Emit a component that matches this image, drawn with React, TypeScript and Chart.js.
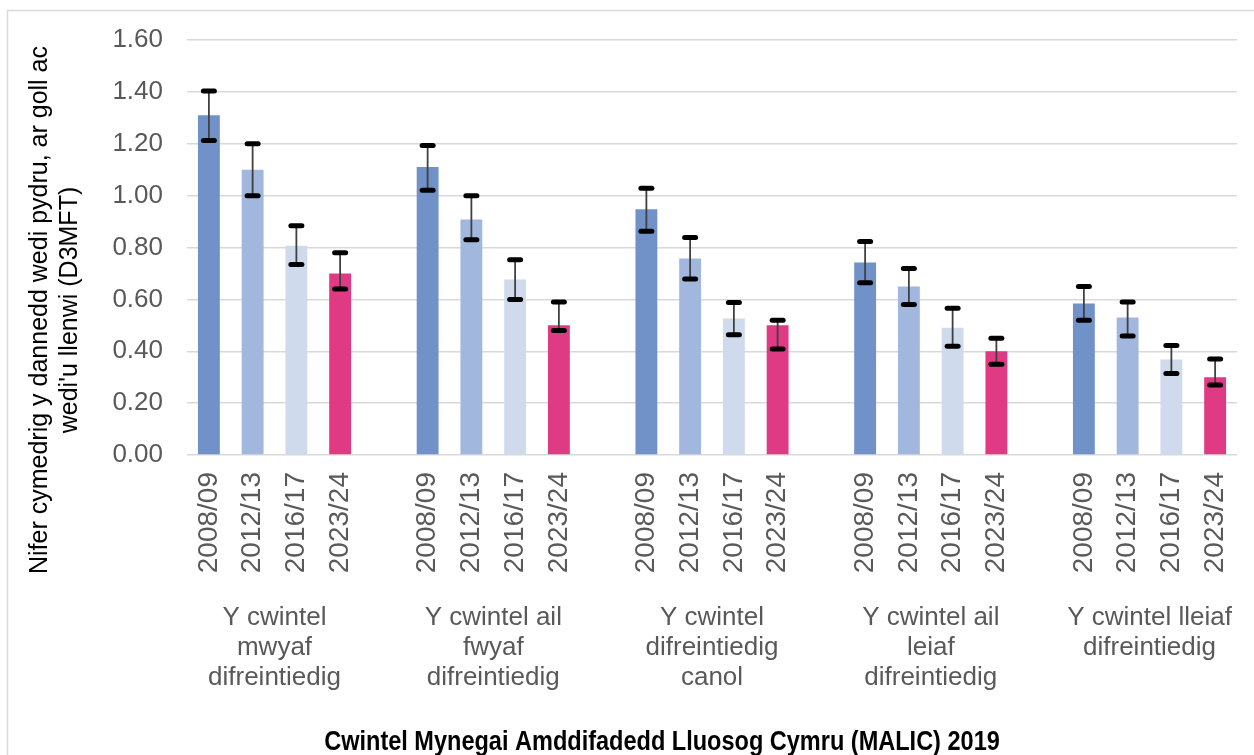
import React, { useEffect, useRef } from "react";
import { Chart, registerables } from "chart.js";

Chart.register(...registerables);

// ---- data ----
const groupLabels: string[][] = [
  ["Y cwintel", "mwyaf", "difreintiedig"],
  ["Y cwintel ail", "fwyaf", "difreintiedig"],
  ["Y cwintel", "difreintiedig", "canol"],
  ["Y cwintel ail", "leiaf", "difreintiedig"],
  ["Y cwintel lleiaf", "difreintiedig"],
];
const years = ["2008/09", "2012/13", "2016/17", "2023/24"];

const mean2008 = [1.31, 1.11, 0.947, 0.742, 0.584];
const mean2012 = [1.1, 0.908, 0.758, 0.65, 0.53];
const mean2016 = [0.807, 0.677, 0.526, 0.491, 0.368];
const mean2023 = [0.7, 0.5, 0.5, 0.4, 0.3];

const lower2008 = [1.213, 1.021, 0.863, 0.664, 0.52];
const upper2008 = [1.403, 1.193, 1.028, 0.823, 0.65];
const lower2012 = [1.0, 0.83, 0.679, 0.58, 0.459];
const upper2012 = [1.2, 1.0, 0.839, 0.719, 0.59];
const lower2016 = [0.734, 0.6, 0.464, 0.419, 0.314];
const upper2016 = [0.884, 0.753, 0.588, 0.566, 0.422];
const lower2023 = [0.64, 0.48, 0.409, 0.35, 0.27];
const upper2023 = [0.78, 0.59, 0.52, 0.45, 0.37];

const yearColors = ["#7092c8", "#a2b7dd", "#cfdaed", "#e03a84"];

const yTitle = ["Nifer cymedrig y dannedd wedi pydru, ar goll ac", "wedi'u llenwi (D3MFT)"];
const xTitle = "Cwintel Mynegai Amddifadedd Lluosog Cymru (MALIC) 2019";

// ---- build flat category table (blank category between groups) ----
const means = [mean2008, mean2012, mean2016, mean2023];
const lowers = [lower2008, lower2012, lower2016, lower2023];
const uppers = [upper2008, upper2012, upper2016, upper2023];

const flatLabels: string[] = [];
const flatGroupLabels: (string | string[])[] = [];
const flatValues: (number | null)[] = [];
const flatLow: (number | null)[] = [];
const flatHigh: (number | null)[] = [];
const flatColors: string[] = [];
groupLabels.forEach((gl, g) => {
  years.forEach((yr, s) => {
    flatLabels.push(yr);
    // group label sits on 2nd bar, shifted half a category to the right
    flatGroupLabels.push(s === 1 ? gl : "");
    flatValues.push(means[s][g]);
    flatLow.push(lowers[s][g]);
    flatHigh.push(uppers[s][g]);
    flatColors.push(yearColors[s]);
  });
  if (g < groupLabels.length - 1) {
    flatLabels.push("");
    flatGroupLabels.push("");
    flatValues.push(null);
    flatLow.push(null);
    flatHigh.push(null);
    flatColors.push("rgba(0,0,0,0)");
  }
});

const SANS = "'Liberation Sans', Arial, sans-serif";

const errorBarPlugin = {
  id: "errorBars",
  afterDatasetsDraw(chart: any) {
    const { ctx } = chart;
    const xs = chart.scales.x;
    const ys = chart.scales.y;
    ctx.save();
    flatValues.forEach((v, i) => {
      if (v === null) return;
      const lo = flatLow[i] as number;
      const hi = flatHigh[i] as number;
      const x = xs.getPixelForValue(i);
      const yLo = ys.getPixelForValue(lo);
      const yHi = ys.getPixelForValue(hi);
      ctx.strokeStyle = "#404040";
      ctx.lineWidth = 1.8;
      ctx.lineCap = "butt";
      ctx.beginPath();
      ctx.moveTo(x, yLo);
      ctx.lineTo(x, yHi);
      ctx.stroke();
      ctx.strokeStyle = "#000000";
      ctx.lineWidth = 5;
      ctx.lineCap = "round";
      [yLo, yHi].forEach((yy) => {
        ctx.beginPath();
        ctx.moveTo(x - 5.5, yy);
        ctx.lineTo(x + 5.5, yy);
        ctx.stroke();
      });
    });
    ctx.restore();
  },
};

const frameAndTitlePlugin = {
  id: "frameAndTitle",
  beforeDraw(chart: any) {
    const { ctx } = chart;
    ctx.save();
    ctx.strokeStyle = "#d9d9d9";
    ctx.lineWidth = 1.5;
    ctx.beginPath();
    ctx.moveTo(7.5, 760);
    ctx.lineTo(7.5, 10.5);
    ctx.lineTo(1260, 10.5);
    ctx.stroke();
    ctx.restore();
  },
  afterDraw(chart: any) {
    const { ctx } = chart;
    // y axis title (two lines, rotated)
    ctx.save();
    ctx.translate(0, 310);
    ctx.rotate(-Math.PI / 2);
    ctx.fillStyle = "#000000";
    ctx.font = `25px ${SANS}`;
    ctx.textAlign = "center";
    ctx.textBaseline = "middle";
    yTitle.forEach((line, i) => {
      ctx.fillText(line, 0, 40 + i * 30);
    });
    ctx.restore();
    // x axis title (condensed bold)
    ctx.save();
    ctx.translate(662, 742);
    ctx.scale(0.84, 1);
    ctx.fillStyle = "#000000";
    ctx.font = `bold 28px ${SANS}`;
    ctx.textAlign = "center";
    ctx.textBaseline = "middle";
    ctx.fillText(xTitle, 0, 0);
    ctx.restore();
  },
};

export default function App() {
  const ref = useRef<HTMLCanvasElement | null>(null);
  useEffect(() => {
    document.body.style.margin = "0";
    document.body.style.overflow = "hidden";
    const canvas = ref.current;
    if (!canvas) return;
    const chart = new Chart(canvas, {
      type: "bar",
      data: {
        labels: flatLabels,
        datasets: [
          {
            data: flatValues,
            backgroundColor: flatColors,
            borderWidth: 0,
            categoryPercentage: 1,
            barPercentage: 0.5,
          },
        ],
      },
      options: {
        animation: false,
        responsive: false,
        layout: { padding: { left: 0, right: 17, top: 40, bottom: 0 } },
        plugins: {
          legend: { display: false },
          tooltip: { enabled: false },
          title: { display: false },
        },
        scales: {
          y: {
            min: 0,
            max: 1.6,
            ticks: {
              stepSize: 0.2,
              padding: 24,
              color: "#595959",
              font: { family: SANS, size: 26 },
              callback: (v: any) => Number(v).toFixed(2),
            },
            grid: { color: "#d9d9d9", lineWidth: 1.5, drawTicks: false },
            border: { display: false },
            afterFit: (scale: any) => {
              scale.width = 187;
              scale.paddingTop = 0;
              scale.paddingBottom = 0;
            },
          },
          x: {
            type: "category",
            position: "bottom",
            weight: 1,
            grid: { display: false, drawTicks: false },
            border: { display: false },
            ticks: {
              autoSkip: false,
              minRotation: 90,
              maxRotation: 90,
              padding: 17,
              color: "#595959",
              font: { family: SANS, size: 28 },
            },
            afterFit: (scale: any) => {
              scale.height = 130;
              scale.paddingLeft = 0;
              scale.paddingRight = 0;
            },
          },
          x2: {
            type: "category",
            position: "bottom",
            weight: 2,
            offset: true,
            labels: flatGroupLabels,
            grid: { display: false, drawTicks: false },
            border: { display: false },
            ticks: {
              autoSkip: false,
              maxRotation: 0,
              minRotation: 0,
              padding: 18,
              labelOffset: 21.9,
              color: "#595959",
              font: { family: SANS, size: 26, lineHeight: 30 / 26 },
            },
            afterFit: (scale: any) => {
              scale.height = 170;
              scale.paddingLeft = 0;
              scale.paddingRight = 0;
            },
          },
        },
      } as any,
      plugins: [errorBarPlugin, frameAndTitlePlugin],
    });
    return () => chart.destroy();
  }, []);
  return (
    <div style={{ width: 1254, height: 755, background: "#ffffff" }}>
      <canvas ref={ref} width={1254} height={755} />
    </div>
  );
}
